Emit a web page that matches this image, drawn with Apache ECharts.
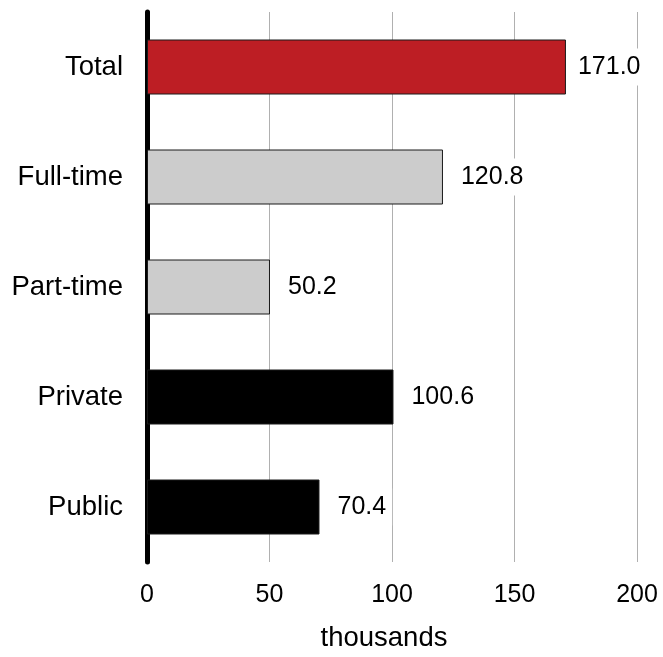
<!DOCTYPE html>
<html>
<head>
<meta charset="utf-8">
<script src="https://cdn.jsdelivr.net/npm/echarts@6/dist/echarts.min.js"></script>
<style>
  html, body { margin: 0; padding: 0; background: #ffffff; width: 100%; height: 100%; overflow: hidden; }
  #chart { position: absolute; left: 0; top: 0; width: 663px; height: 657px; }
</style>
</head>
<body>
<div id="chart"></div>
<script>
// Employment breakdown, in thousands
const categories = ['Total', 'Full-time', 'Part-time', 'Private', 'Public'];
const values = [171.0, 120.8, 50.2, 100.6, 70.4];
const xTicks = [0, 50, 100, 150, 200];

const barColors = ['#bd1e24', '#cccccc', '#cccccc', '#000000', '#000000'];
// the top label sits a bit closer to its bar so it stays inside the canvas
const labelGaps = [6, 12, 12, 12, 12];

const FONT = '"Liberation Sans", Arial, Helvetica, sans-serif';

const chart = echarts.init(document.getElementById('chart'), null, { renderer: 'canvas' });

chart.setOption({
  animation: false,
  backgroundColor: '#ffffff',
  grid: { left: 147, width: 490, top: 12, height: 559, containLabel: false },
  xAxis: {
    type: 'value',
    min: xTicks[0],
    max: xTicks[xTicks.length - 1],
    interval: xTicks[1] - xTicks[0],
    axisLine: { show: false },
    axisTick: { show: false },
    splitLine: { show: true, lineStyle: { color: '#b0b0b0', width: 1 } },
    axisLabel: { color: '#000000', fontFamily: FONT, fontSize: 25, margin: 21 },
    name: 'thousands',
    nameLocation: 'middle',
    nameGap: 62,
    nameTextStyle: { color: '#000000', fontFamily: FONT, fontSize: 27.5, padding: [0, 16, 0, 0] }
  },
  yAxis: {
    type: 'category',
    data: categories,
    inverse: true,
    axisLine: { show: true, lineStyle: { color: '#000000', width: 5 } },
    axisTick: { show: false },
    axisLabel: { color: '#000000', fontFamily: FONT, fontSize: 27.5, margin: 24 }
  },
  series: [{
    type: 'bar',
    barWidth: '50%',
    data: values.map((v, i) => ({
      value: v,
      itemStyle: { color: barColors[i] },
      label: { distance: labelGaps[i] }
    })),
    itemStyle: { borderColor: '#1a1a1a', borderWidth: 1 },
    label: {
      show: true,
      position: 'right',
      formatter: p => p.value.toFixed(1),
      color: '#000000',
      fontFamily: FONT,
      fontSize: 25,
      backgroundColor: '#ffffff',
      padding: [6, 6]
    }
  }]
});
</script>
</body>
</html>
